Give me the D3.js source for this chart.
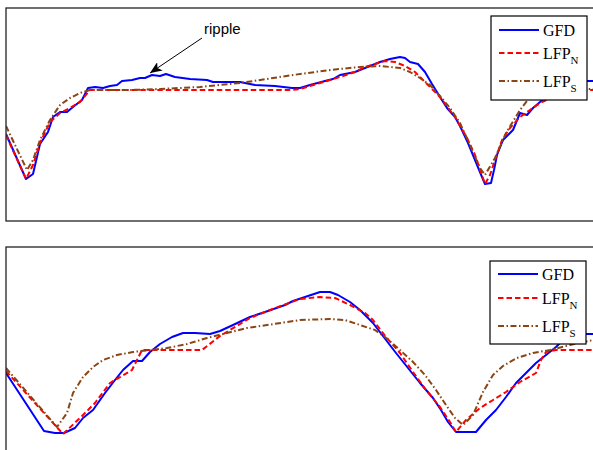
<!DOCTYPE html>
<meta charset="utf-8">
<script src="https://cdn.jsdelivr.net/npm/d3@7"></script>
<head>
<style>
    body { margin: 0; background: #fff; }
</style>
</head>
<body>
<script>

    // series, [sample, amplitude]
    var topGFD = [[0,87],[20,42],[27,47],[34,77],[42,89],[47,104],[54,109],[61,109],[67,114],[76,121],[82,133],[89,134],[97,133],[104,135],[111,136],[116,140],[126,141],[134,143],[139,143],[146,146],[154,145],[160,147],[169,144],[184,142],[201,141],[207,139],[234,139],[249,136],[269,135],[286,133],[294,133],[304,136],[319,140],[327,142],[334,146],[349,149],[359,153],[364,155],[374,159],[384,162],[394,164],[399,163],[404,159],[412,157],[419,149],[426,137],[434,124],[441,113],[449,104],[454,95],[462,78],[469,61],[476,44],[479,37],[485,38],[488,51],[491,66],[497,81],[507,91],[514,108],[521,106],[527,113],[534,119],[541,125],[549,131],[559,136],[569,139],[581,140],[587,140]];
    var topLFPN = [[0,86],[20,42],[27,56],[34,78],[44,99],[54,108],[64,113],[74,119],[84,131],[286,131],[294,132],[314,138],[334,144],[349,149],[359,154],[379,160],[389,159],[399,155],[409,149],[419,139],[434,124],[449,104],[461,83],[469,66],[479,37],[484,46],[489,61],[496,81],[504,93],[514,104],[524,111],[534,118],[549,125],[564,130],[579,131],[587,131]];
    var topLFPS = [[0,95],[21,51],[27,61],[34,81],[44,101],[54,116],[64,123],[74,128],[84,131],[124,131],[154,132],[194,134],[234,138],[287,146],[324,151],[354,154],[374,155],[384,154],[394,153],[404,149],[414,143],[424,136],[434,125],[444,113],[454,98],[464,76],[474,53],[479,46],[489,63],[500,88],[514,111],[524,124],[534,128],[549,131],[569,132],[587,132]];

    var botGFD = [[0,87],[38,29],[49,27],[58,27],[69,32],[77,42],[87,50],[99,67],[109,80],[117,90],[127,99],[136,99],[144,108],[154,116],[166,123],[177,127],[189,127],[204,126],[214,129],[227,135],[244,143],[259,148],[279,155],[287,159],[299,163],[314,168],[324,168],[332,165],[344,158],[354,150],[367,137],[380,120],[390,107],[402,92],[414,77],[427,62],[435,50],[442,38],[450,28],[460,28],[470,28],[480,40],[490,50],[500,63],[510,77],[520,87],[530,97],[540,105],[550,113],[557,120],[570,126],[587,126]];
    var botLFPN = [[0,89],[57,26],[74,42],[89,57],[104,77],[126,90],[136,110],[196,110],[214,124],[244,142],[264,150],[294,161],[314,163],[329,162],[344,155],[359,147],[367,140],[380,123],[394,107],[407,88],[420,70],[434,53],[444,38],[450,28],[460,40],[474,52],[487,60],[500,68],[514,78],[530,87],[535,100],[540,108],[550,110],[587,110]];
    var botLFPS = [[0,92],[51,33],[61,47],[67,67],[77,83],[87,93],[97,100],[111,105],[127,108],[144,110],[161,112],[181,116],[201,122],[221,127],[241,132],[261,135],[281,138],[294,140],[324,141],[339,140],[354,135],[369,130],[379,123],[394,110],[407,98],[419,85],[430,70],[440,55],[449,42],[457,35],[467,45],[477,68],[487,85],[497,94],[511,102],[527,107],[544,110],[564,115],[587,120]];

    var seriesNames = ["GFD", "LFP", "LFP"];
    var seriesSubs = ["", "N", "S"];

    var W = 593, H = 450;

    var svg = d3.select("body").append("svg")
        .attr("width", W)
        .attr("height", H)
        .style("display", "block");

    var styles = [
        { color: "#0000ff", dash: null, width: 2 },
        { color: "#ff0000", dash: "5.5,3", width: 2 },
        { color: "#8b4513", dash: "6,2.5,1.5,2.5", width: 2 }
    ];

    var x = d3.scaleLinear().domain([0, 587]).range([6, 593]);

    function drawPanel(id, top, bottom, series, legendX, legendY, rowYs, legendH) {
        var y = d3.scaleLinear().domain([0, 213]).range([bottom, top]);

        svg.append("clipPath").attr("id", id)
            .append("rect")
            .attr("x", 6).attr("y", top)
            .attr("width", 600).attr("height", bottom - top);

        var line = d3.line()
            .x(function(d) { return x(d[0]); })
            .y(function(d) { return y(d[1]); });

        var g = svg.append("g").attr("clip-path", "url(#" + id + ")");
        series.forEach(function(s, i) {
            g.append("path")
                .datum(s)
                .attr("d", line)
                .style("fill", "none")
                .style("stroke", styles[i].color)
                .style("stroke-width", styles[i].width)
                .style("stroke-dasharray", styles[i].dash)
                .style("stroke-linejoin", "round");
        });

        // axes box (right edge runs off the page)
        svg.append("rect")
            .attr("x", 6).attr("y", top)
            .attr("width", 620).attr("height", bottom - top)
            .style("fill", "none")
            .style("stroke", "#222")
            .style("stroke-width", 1.3);

        // legend
        var lg = svg.append("g").attr("transform", "translate(" + legendX + "," + legendY + ")");
        lg.append("rect")
            .attr("width", 96).attr("height", legendH)
            .style("fill", "#fff")
            .style("stroke", "#000")
            .style("stroke-width", 1.2);

        seriesNames.forEach(function(name, i) {
            lg.append("line")
                .attr("x1", 8).attr("x2", 48)
                .attr("y1", rowYs[i]).attr("y2", rowYs[i])
                .style("stroke", styles[i].color)
                .style("stroke-width", styles[i].width)
                .style("stroke-dasharray", styles[i].dash);
            var t = lg.append("text")
                .attr("x", 52)
                .attr("y", rowYs[i] + 6)
                .style("font-family", "'Liberation Serif', 'Times New Roman', serif")
                .style("font-size", "16px")
                .text(name);
            if (seriesSubs[i]) {
                t.append("tspan")
                    .attr("dy", 5)
                    .style("font-size", "11px")
                    .text(seriesSubs[i]);
            }
        });
    }

    drawPanel("clipTop", 8, 221, [topGFD, topLFPN, topLFPS], 491, 16, [14, 37, 65], 84);
    drawPanel("clipBot", 247, 460, [botGFD, botLFPN, botLFPS], 490, 261, [13, 37, 65], 83);

    // ripple annotation
    svg.append("defs").append("marker")
        .attr("id", "arrowHead")
        .attr("viewBox", "0 0 12 10")
        .attr("refX", 12).attr("refY", 5)
        .attr("markerWidth", 12).attr("markerHeight", 10)
        .attr("markerUnits", "userSpaceOnUse")
        .attr("orient", "auto")
        .append("path")
        .attr("d", "M0,0 L12,5 L0,10 L3,5 Z")
        .style("fill", "#000");

    svg.append("line")
        .attr("x1", 202).attr("y1", 38)
        .attr("x2", 150).attr("y2", 73)
        .style("stroke", "#000")
        .style("stroke-width", 1)
        .attr("marker-end", "url(#arrowHead)");

    svg.append("text")
        .attr("x", 204).attr("y", 34)
        .style("font-family", "'Liberation Sans', Arial, sans-serif")
        .style("font-size", "15px")
        .text("ripple");

</script>
</body>
</html>
